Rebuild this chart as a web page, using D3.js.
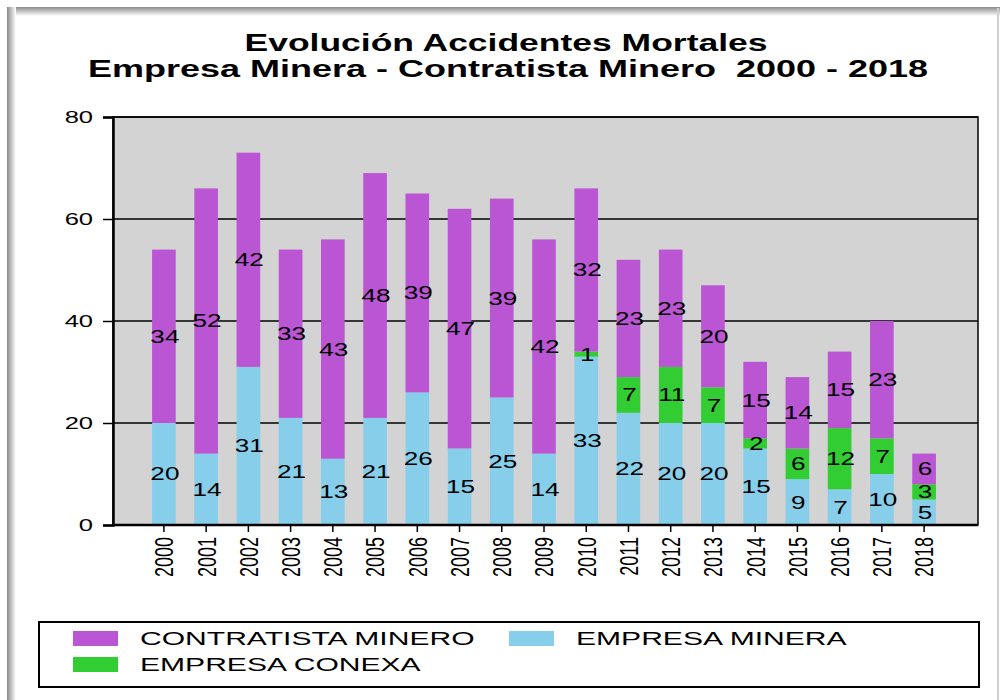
<!DOCTYPE html>
<html>
<head>
<meta charset="utf-8">
<script src="https://cdn.jsdelivr.net/npm/d3@7"></script>
<style>
  body { margin: 0; background: #fff; }
  text { font-family: "Liberation Sans", Arial, sans-serif; fill: #000; }
</style>
</head>
<body>
<div id="chart"></div>
<script>
// data
var years = ["2000", "2001", "2002", "2003", "2004", "2005", "2006", "2007", "2008", "2009",
             "2010", "2011", "2012", "2013", "2014", "2015", "2016", "2017", "2018"];
var empresaMinera     = [20, 14, 31, 21, 13, 21, 26, 15, 25, 14, 33, 22, 20, 20, 15, 9, 7, 10, 5];
var empresaConexa     = [0, 0, 0, 0, 0, 0, 0, 0, 0, 0, 1, 7, 11, 7, 2, 6, 12, 7, 3];
var contratistaMinero = [34, 52, 42, 33, 43, 48, 39, 47, 39, 42, 32, 23, 23, 20, 15, 14, 15, 23, 6];
var yTicks = [0, 20, 40, 60, 80];

var seriesKeys = ["minera", "conexa", "contratista"];
var colors = { minera: "#87CEEB", conexa: "#32CD32", contratista: "#BA55D3" };

var tableData = years.map(function(y, i) {
    return { year: y, minera: empresaMinera[i], conexa: empresaConexa[i], contratista: contratistaMinero[i] };
});

var svg = d3.select("#chart").append("svg")
    .attr("width", 1000)
    .attr("height", 700);

// widen text horizontally, the original picture is stretched
function stretch(sel, k) {
    sel.each(function() {
        var w = this.getComputedTextLength();
        d3.select(this).attr("textLength", w * k).attr("lengthAdjust", "spacingAndGlyphs");
    });
}

// frame with soft shadow
var defs = svg.append("defs");
var gTop = defs.append("linearGradient").attr("id", "shTop").attr("x1", 0).attr("y1", 0).attr("x2", 0).attr("y2", 1);
gTop.append("stop").attr("offset", "0%").attr("stop-color", "#8a8a8a");
gTop.append("stop").attr("offset", "100%").attr("stop-color", "#ffffff");
var gLeft = defs.append("linearGradient").attr("id", "shLeft").attr("x1", 0).attr("y1", 0).attr("x2", 1).attr("y2", 0);
gLeft.append("stop").attr("offset", "0%").attr("stop-color", "#8a8a8a");
gLeft.append("stop").attr("offset", "100%").attr("stop-color", "#ffffff");

svg.append("rect").attr("x", 7).attr("y", 7).attr("width", 993).attr("height", 9).attr("fill", "url(#shTop)");
svg.append("rect").attr("x", 7).attr("y", 7).attr("width", 9).attr("height", 693).attr("fill", "url(#shLeft)");
svg.append("line").attr("x1", 998).attr("x2", 998).attr("y1", 8).attr("y2", 700)
    .attr("stroke", "#cfcfcf").attr("stroke-width", 2);

// title
var t1 = svg.append("text").attr("x", 506).attr("y", 51).attr("text-anchor", "middle")
    .style("font-size", "23px").style("font-weight", "bold")
    .text("Evolución Accidentes Mortales");
var t2 = svg.append("text").attr("x", 508).attr("y", 77).attr("text-anchor", "middle")
    .style("font-size", "23px").style("font-weight", "bold")
    .style("white-space", "pre")
    .text("Empresa Minera - Contratista Minero  2000 - 2018");
t1.attr("textLength", 523).attr("lengthAdjust", "spacingAndGlyphs");
t2.attr("textLength", 840).attr("lengthAdjust", "spacingAndGlyphs");

// plot area
var plot = { left: 113, right: 978, top: 117, bottom: 525 };

var x = d3.scaleBand()
    .domain(years)
    .range([133.5, 954.5])
    .padding(0.44);

var y = d3.scaleLinear()
    .domain([0, 80])
    .range([plot.bottom, plot.top]);

svg.append("rect")
    .attr("x", plot.left).attr("y", plot.top)
    .attr("width", plot.right - plot.left).attr("height", plot.bottom - plot.top)
    .attr("fill", "#D3D3D3");

// gridlines
svg.append("g").selectAll("line")
    .data(yTicks.slice(1))
    .enter().append("line")
    .attr("x1", plot.left).attr("x2", plot.right)
    .attr("y1", d => y(d)).attr("y2", d => y(d))
    .attr("stroke", "#000").attr("stroke-width", 1.3);

// bars
var stack = d3.stack().keys(seriesKeys);
var stacked = stack(tableData);

svg.append("g").selectAll("g")
    .data(stacked)
    .enter().append("g")
    .attr("fill", d => colors[d.key])
    .selectAll("rect")
    .data(d => d)
    .enter().append("rect")
    .attr("x", d => x(d.data.year))
    .attr("y", d => y(d[1]))
    .attr("width", x.bandwidth())
    .attr("height", d => y(d[0]) - y(d[1]));

// value labels
var labelData = [];
stacked.forEach(function(s) {
    s.forEach(function(d) {
        var v = d.data[s.key];
        if (v > 0) labelData.push({ year: d.data.year, v: v, mid: (d[0] + d[1]) / 2 });
    });
});

var vl = svg.append("g").selectAll("text")
    .data(labelData)
    .enter().append("text")
    .attr("x", d => x(d.year) + x.bandwidth() / 2 + 1)
    .attr("y", d => y(d.mid))
    .attr("dy", "0.36em")
    .attr("text-anchor", "middle")
    .style("font-size", "18px")
    .text(d => d.v);
stretch(vl, 1.45);

// plot border
svg.append("rect")
    .attr("x", plot.left).attr("y", plot.top)
    .attr("width", plot.right - plot.left).attr("height", plot.bottom - plot.top)
    .attr("fill", "none").attr("stroke", "#000").attr("stroke-width", 1.5);

// y axis
var yAxis = svg.append("g")
    .attr("transform", "translate(" + plot.left + ",0)")
    .call(d3.axisLeft(y).tickValues(yTicks).tickSize(10).tickPadding(10));
yAxis.select(".domain").attr("stroke-width", 2.5);
yAxis.selectAll(".tick line").attr("stroke-width", 1.5);
var yt = yAxis.selectAll(".tick text")
    .style("font-size", "17px")
    .attr("font-family", null);
stretch(yt, 1.5);

// x axis
var xAxis = svg.append("g")
    .attr("transform", "translate(0," + plot.bottom + ")")
    .call(d3.axisBottom(x).tickSize(7).tickSizeOuter(0));
xAxis.select(".domain").attr("d", "M" + plot.left + ",0H" + plot.right).attr("stroke-width", 2.5);
xAxis.selectAll(".tick line").attr("stroke-width", 1.5);
xAxis.selectAll(".tick text")
    .attr("font-family", null)
    .style("font-size", "18px")
    .style("text-anchor", "end")
    .attr("transform", "scale(1.45,1) rotate(-90)")
    .attr("x", -12)
    .attr("y", 0)
    .attr("dy", "0.36em");

// legend
var legend = svg.append("g");
legend.append("rect")
    .attr("x", 39).attr("y", 622).attr("width", 940).attr("height", 65)
    .attr("fill", "#fff").attr("stroke", "#000").attr("stroke-width", 2);

var legendItems = [
    { key: "contratista", label: "CONTRATISTA MINERO", x: 73, y: 631 },
    { key: "minera", label: "EMPRESA MINERA", x: 509, y: 631 },
    { key: "conexa", label: "EMPRESA CONEXA", x: 73, y: 657 }
];

var li = legend.selectAll(".item")
    .data(legendItems)
    .enter().append("g")
    .attr("class", "item");
li.append("rect")
    .attr("x", d => d.x).attr("y", d => d.y)
    .attr("width", 45).attr("height", 15)
    .attr("fill", d => colors[d.key]);
var lt = li.append("text")
    .attr("x", d => d.x + 67).attr("y", d => d.y + 7.5)
    .attr("dy", "0.36em")
    .style("font-size", "18px")
    .text(d => d.label);
stretch(lt, 1.67);
</script>
</body>
</html>
